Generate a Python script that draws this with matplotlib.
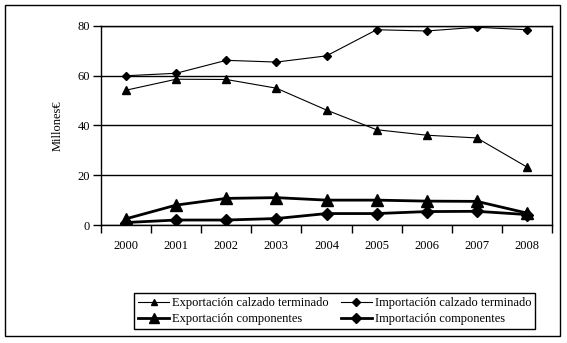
import matplotlib.pyplot as plt
import matplotlib.patches as mpatches

plt.rcParams['font.family'] = ['Liberation Serif', 'DejaVu Serif']

# Datos (millones de euros)
years = ['2000', '2001', '2002', '2003', '2004', '2005', '2006', '2007', '2008']
export_calzado = [54.2, 58.6, 58.5, 55.0, 46.2, 38.3, 36.1, 35.0, 23.3]
import_calzado = [60.0, 61.0, 66.2, 65.5, 68.0, 78.5, 78.0, 79.5, 78.5]
export_componentes = [2.5, 8.0, 10.7, 11.0, 10.0, 10.0, 9.6, 9.5, 4.8]
import_componentes = [1.0, 2.0, 2.0, 2.6, 4.6, 4.6, 5.4, 5.5, 4.2]

fig = plt.figure(figsize=(5.67, 3.43), dpi=100)
ax = fig.add_axes([101 / 567, 1 - 225 / 343, 451 / 567, 199 / 343])

x = range(len(years))
l1, = ax.plot(x, export_calzado, color='black', lw=0.8, marker='^', ms=6,
              label='Exportación calzado terminado')
l2, = ax.plot(x, import_calzado, color='black', lw=0.8, marker='D', ms=4.5,
              label='Importación calzado terminado')
l3, = ax.plot(x, export_componentes, color='black', lw=2.0, marker='^', ms=9,
              label='Exportación componentes')
l4, = ax.plot(x, import_componentes, color='black', lw=2.0, marker='D', ms=6.5,
              label='Importación componentes')

ax.set_xlim(-0.5, len(years) - 0.5)
ax.set_ylim(0, 80)
ax.set_yticks([0, 20, 40, 60, 80])
ax.yaxis.grid(True, color='black', lw=1.0)
ax.set_axisbelow(True)

# ticks de categoría entre años, etiquetas centradas
ax.set_xticks([i + 0.5 for i in range(-1, len(years))])
ax.set_xticklabels([])
ax.set_xticks(list(x), minor=True)
ax.set_xticklabels(years, minor=True, fontsize=9)
ax.tick_params(axis='x', which='minor', length=0, pad=11)
ax.tick_params(axis='x', which='major', length=6, width=1, direction='out')
ax.tick_params(axis='y', length=6, width=1, direction='out', labelsize=9, pad=2)

for s in ax.spines.values():
    s.set_color('black')
    s.set_linewidth(1.0)

ax.set_ylabel('Millones€', fontsize=9, labelpad=10)

leg = fig.legend(handles=[l1, l3, l2, l4], ncol=2, loc='center',
                 bbox_to_anchor=(334.5 / 567, 1 - 311 / 343), fontsize=9,
                 frameon=True, fancybox=False, edgecolor='black', framealpha=1,
                 handlelength=2.5, handletextpad=0.2, columnspacing=1.0,
                 labelspacing=0.3, borderpad=0.3, markerscale=0.8)
leg.get_frame().set_linewidth(1.0)

# marco exterior del gráfico
fig.patches.append(mpatches.Rectangle((5 / 567, 1 - 336 / 343), 555 / 567, 331 / 343,
                                      transform=fig.transFigure, fill=False,
                                      edgecolor='black', lw=1.0))

fig.savefig('out.png', dpi=100)
